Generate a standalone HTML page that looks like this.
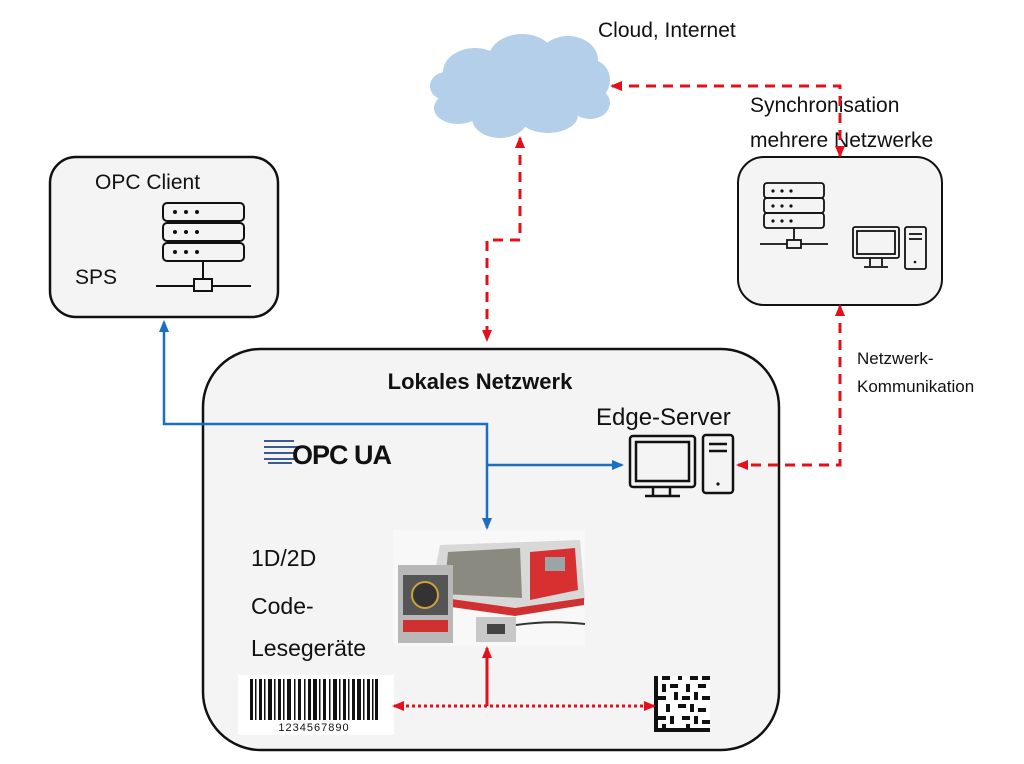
<!DOCTYPE html>
<html><head><meta charset="utf-8"><style>
html,body{margin:0;padding:0;background:#fff;}
svg{display:block;font-family:"Liberation Sans",sans-serif;}
</style></head><body>
<svg width="1024" height="764" viewBox="0 0 1024 764" xmlns="http://www.w3.org/2000/svg">
<defs>
<marker id="ar" markerWidth="12" markerHeight="12" refX="10" refY="6" orient="auto-start-reverse" markerUnits="userSpaceOnUse"><path d="M0,1 L12,6 L0,11 Z" fill="#e3101b"/></marker>
<marker id="ab" markerWidth="12" markerHeight="12" refX="10" refY="6" orient="auto-start-reverse" markerUnits="userSpaceOnUse"><path d="M0,1 L12,6 L0,11 Z" fill="#1a6fc0"/></marker>
</defs>

<!-- cloud -->
<g fill="#b4cfe9">
<ellipse cx="520" cy="90" rx="82" ry="36"/>
<ellipse cx="475" cy="72" rx="32" ry="24"/><ellipse cx="522" cy="60" rx="34" ry="26"/><ellipse cx="568" cy="60" rx="30" ry="24"/>
<ellipse cx="592" cy="80" rx="18" ry="20"/><ellipse cx="590" cy="103" rx="20" ry="16"/><ellipse cx="548" cy="115" rx="30" ry="18"/><ellipse cx="500" cy="118" rx="28" ry="20"/>
<ellipse cx="458" cy="108" rx="24" ry="16"/><ellipse cx="446" cy="86" rx="16" ry="14"/>
</g>
<text x="598" y="37" font-size="21" fill="#111">Cloud, Internet</text>

<!-- OPC client box -->
<rect x="50" y="157" width="228" height="160" rx="26" fill="#f4f4f4" stroke="#111" stroke-width="2.5"/>
<text x="95" y="189" font-size="21" fill="#111">OPC Client</text>
<text x="75" y="284" font-size="21" fill="#111">SPS</text>
<g fill="none" stroke="#111" stroke-width="2">
<rect x="163" y="203" width="81" height="18" rx="4"/><rect x="163" y="223" width="81" height="18" rx="4"/><rect x="163" y="243" width="81" height="18" rx="4"/>
<line x1="203" y1="261" x2="203" y2="279"/><line x1="156" y1="286" x2="251" y2="286"/><rect x="194" y="279" width="18" height="12" fill="#f4f4f4"/>
</g>
<g fill="#111"><circle cx="175" cy="212" r="2"/><circle cx="186" cy="212" r="2"/><circle cx="197" cy="212" r="2"/><circle cx="175" cy="232" r="2"/><circle cx="186" cy="232" r="2"/><circle cx="197" cy="232" r="2"/><circle cx="175" cy="252" r="2"/><circle cx="186" cy="252" r="2"/><circle cx="197" cy="252" r="2"/></g>

<!-- right box -->
<rect x="738" y="157" width="204" height="148" rx="26" fill="#f4f4f4" stroke="#111" stroke-width="2"/>
<text x="750" y="112" font-size="21" fill="#111">Synchronisation</text>
<text x="750" y="147" font-size="21" fill="#111">mehrere Netzwerke</text>
<g fill="none" stroke="#111" stroke-width="1.8">
<rect x="764" y="183" width="60" height="15" rx="3"/><rect x="764" y="198" width="60" height="15" rx="3"/><rect x="764" y="213" width="60" height="15" rx="3"/>
<line x1="794" y1="228" x2="794" y2="240"/><line x1="760" y1="244" x2="828" y2="244"/><rect x="787" y="240" width="14" height="8" fill="#f4f4f4"/>
<rect x="853" y="227" width="46" height="31" rx="2"/><rect x="857" y="231" width="38" height="23"/><line x1="870" y1="258" x2="870" y2="266"/><line x1="882" y1="258" x2="882" y2="266"/><line x1="864" y1="267" x2="888" y2="267"/>
<rect x="905" y="227" width="21" height="42" rx="2"/><line x1="909" y1="234" x2="922" y2="234"/><line x1="909" y1="239" x2="922" y2="239"/>
</g>
<g fill="#111"><circle cx="773" cy="191" r="1.6"/><circle cx="782" cy="191" r="1.6"/><circle cx="791" cy="191" r="1.6"/><circle cx="773" cy="206" r="1.6"/><circle cx="782" cy="206" r="1.6"/><circle cx="791" cy="206" r="1.6"/><circle cx="773" cy="221" r="1.6"/><circle cx="782" cy="221" r="1.6"/><circle cx="791" cy="221" r="1.6"/><circle cx="915" cy="262" r="1.3"/></g>
<text x="857" y="364" font-size="17" fill="#111">Netzwerk-</text>
<text x="857" y="392" font-size="17" fill="#111">Kommunikation</text>

<!-- main box -->
<rect x="203" y="349" width="576" height="401" rx="58" fill="#f4f4f4" stroke="#111" stroke-width="2.5"/>
<text x="480" y="389" font-size="22" font-weight="bold" text-anchor="middle" fill="#111">Lokales Netzwerk</text>
<text x="596" y="425" font-size="24" fill="#111">Edge-Server</text>
<g fill="none" stroke="#111" stroke-width="2.5">
<rect x="630" y="436" width="65" height="51" rx="3"/><rect x="636" y="442" width="53" height="39"/>
<line x1="653" y1="487" x2="653" y2="495"/><line x1="670" y1="487" x2="670" y2="495"/><line x1="645" y1="496" x2="680" y2="496"/>
<rect x="703" y="435" width="30" height="58" rx="3"/><line x1="709" y1="444" x2="727" y2="444"/><line x1="709" y1="451" x2="727" y2="451"/>
</g>
<circle cx="718" cy="484" r="1.6" fill="#111"/>

<!-- OPC UA logo -->
<g>
<g fill="#3a5a90"><rect x="264" y="440" width="30" height="2"/><rect x="264" y="446" width="34" height="2"/><rect x="264" y="452" width="32" height="2"/><rect x="264" y="458" width="30" height="2"/><rect x="268" y="462" width="24" height="2"/></g>
<text x="292" y="464" font-size="27" font-weight="bold" fill="#111" letter-spacing="-1">OPC UA</text>
</g>

<text x="251" y="566" font-size="23" fill="#111">1D/2D</text>
<text x="251" y="614" font-size="23" fill="#111">Code-</text>
<text x="251" y="656" font-size="23" fill="#111">Lesegeräte</text>

<!-- devices photo -->
<rect x="393" y="530" width="192" height="116" fill="#f8f8f8"/>
<path d="M440 545 L580 540 L585 600 L515 612 L430 598 Z" fill="#d8d8d8"/>
<path d="M448 552 L520 548 L522 598 L444 594 Z" fill="#8a8a80"/>
<path d="M530 552 L575 548 L578 590 L530 600 Z" fill="#d83030"/>
<rect x="545" y="557" width="20" height="14" fill="#9aa5a5"/>
<path d="M430 596 L515 608 L584 598 L584 605 L515 616 L430 604 Z" fill="#d03030"/>
<rect x="398" y="565" width="55" height="78" fill="#b8b8b8"/>
<rect x="403" y="575" width="45" height="40" fill="#555"/>
<circle cx="425" cy="595" r="13" fill="#333" stroke="#d0a040" stroke-width="2"/>
<rect x="403" y="620" width="45" height="12" fill="#d03030"/>
<rect x="476" y="617" width="40" height="25" fill="#c8c8c8"/>
<rect x="487" y="624" width="18" height="10" fill="#444"/>
<path d="M516 625 Q550 620 585 624" stroke="#333" stroke-width="2" fill="none"/>

<!-- barcode -->
<rect x="238" y="675" width="156" height="60" fill="#fff"/>
<g fill="#111">
<rect x="250" y="679" width="3" height="41"/><rect x="255" y="679" width="1.5" height="41"/><rect x="259" y="679" width="3" height="41"/><rect x="264" y="679" width="1.5" height="41"/>
<rect x="268" y="679" width="4" height="41"/><rect x="274" y="679" width="1.5" height="41"/><rect x="278" y="679" width="3" height="41"/><rect x="283" y="679" width="1.5" height="41"/>
<rect x="287" y="679" width="4" height="41"/><rect x="294" y="679" width="1.5" height="41"/><rect x="298" y="679" width="3" height="41"/><rect x="304" y="679" width="1.5" height="41"/>
<rect x="308" y="679" width="3" height="41"/><rect x="313" y="679" width="4" height="41"/><rect x="319" y="679" width="1.5" height="41"/><rect x="323" y="679" width="3" height="41"/>
<rect x="329" y="679" width="1.5" height="41"/><rect x="333" y="679" width="4" height="41"/><rect x="339" y="679" width="1.5" height="41"/><rect x="343" y="679" width="3" height="41"/>
<rect x="348" y="679" width="1.5" height="41"/><rect x="352" y="679" width="3" height="41"/><rect x="357" y="679" width="4" height="41"/><rect x="363" y="679" width="1.5" height="41"/>
<rect x="367" y="679" width="3" height="41"/><rect x="372" y="679" width="1.5" height="41"/><rect x="375" y="679" width="3" height="41"/>
</g>
<text x="314" y="731" font-size="11" text-anchor="middle" fill="#111" letter-spacing="1">1234567890</text>

<!-- datamatrix -->
<rect x="654" y="676" width="56" height="56" fill="#fff"/>
<g fill="#111">
<rect x="654" y="676" width="4" height="56"/><rect x="654" y="728" width="56" height="4"/>
<rect x="662" y="676" width="8" height="4"/><rect x="678" y="676" width="4" height="4"/><rect x="690" y="676" width="8" height="4"/><rect x="702" y="676" width="8" height="4"/>
<rect x="662" y="684" width="4" height="8"/><rect x="670" y="684" width="8" height="4"/><rect x="686" y="684" width="4" height="8"/><rect x="698" y="684" width="8" height="4"/>
<rect x="658" y="696" width="8" height="4"/><rect x="674" y="692" width="4" height="8"/><rect x="682" y="696" width="8" height="4"/><rect x="694" y="692" width="4" height="8"/><rect x="702" y="696" width="8" height="4"/>
<rect x="666" y="704" width="4" height="8"/><rect x="678" y="704" width="8" height="4"/><rect x="690" y="704" width="4" height="8"/><rect x="698" y="708" width="8" height="4"/>
<rect x="658" y="716" width="8" height="4"/><rect x="670" y="716" width="4" height="8"/><rect x="682" y="716" width="8" height="4"/><rect x="694" y="716" width="4" height="8"/><rect x="702" y="720" width="8" height="4"/>
<rect x="662" y="724" width="4" height="4"/><rect x="686" y="724" width="4" height="4"/>
</g>

<!-- blue connectors -->
<g fill="none" stroke="#1a6fc0" stroke-width="2.5">
<polyline points="164,322 164,424 487,424 487,528" marker-start="url(#ab)" marker-end="url(#ab)"/>
<line x1="487" y1="465" x2="622" y2="465" marker-end="url(#ab)"/>
</g>

<!-- red dashed connectors -->
<g fill="none" stroke="#e3101b" stroke-width="3" stroke-dasharray="10,7">
<polyline points="520,138 520,240 487,240 487,340" marker-start="url(#ar)" marker-end="url(#ar)"/>
<polyline points="612,86 840,86 840,156" marker-start="url(#ar)" marker-end="url(#ar)"/>
<polyline points="840,306 840,465 738,465" marker-start="url(#ar)" marker-end="url(#ar)"/>
</g>

<!-- red solid & dotted -->
<line x1="487" y1="706" x2="487" y2="648" stroke="#e3101b" stroke-width="3" marker-end="url(#ar)"/>
<line x1="394" y1="706" x2="654" y2="706" stroke="#e3101b" stroke-width="3" stroke-dasharray="3,3" marker-start="url(#ar)" marker-end="url(#ar)"/>
</svg>
</body></html>
